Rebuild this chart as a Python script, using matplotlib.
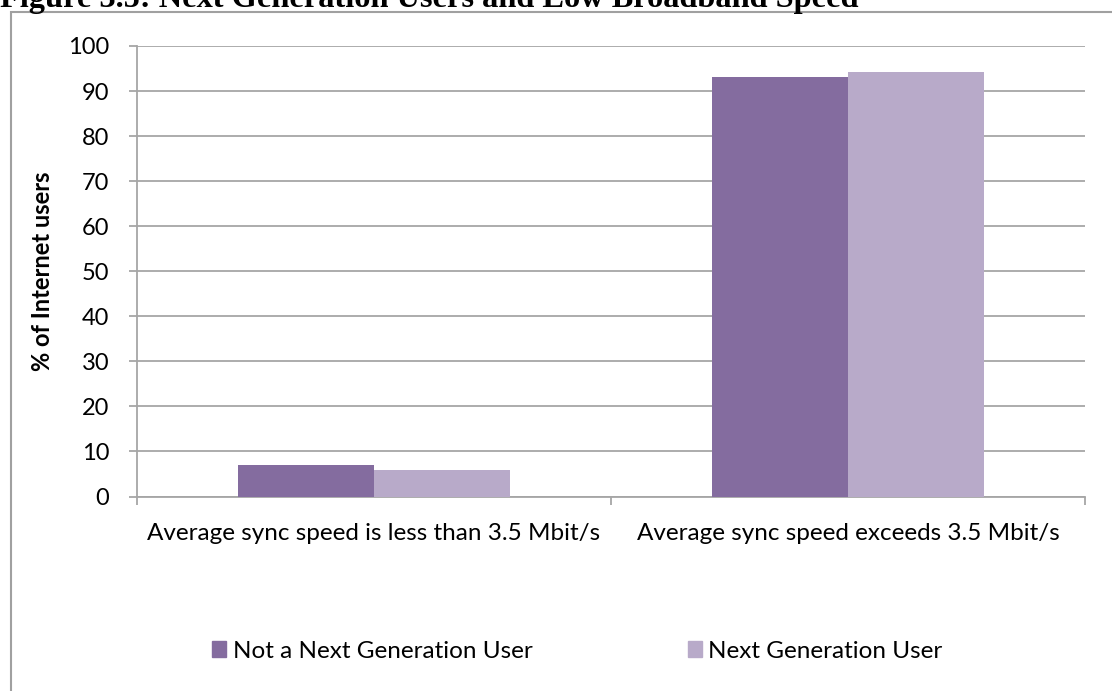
import matplotlib
matplotlib.use("Agg")
import matplotlib.pyplot as plt
from matplotlib.patches import Rectangle, Patch
import numpy as np

categories = ["Average sync speed is less than 3.5 Mbit/s",
              "Average sync speed exceeds 3.5 Mbit/s"]
not_next_gen = [6.9, 93.2]
next_gen = [5.8, 94.3]
series_names = ["Not a Next Generation User", "Next Generation User"]
yticks = [0, 10, 20, 30, 40, 50, 60, 70, 80, 90, 100]

dark = "#846c9f"
light = "#b8aac9"
grid_col = "#a6a6a6"

plt.rcParams["font.family"] = ["Lato", "DejaVu Sans"]

W, H = 1112, 691
fig = plt.figure(figsize=(W / 100, H / 100), dpi=100)

# outer chart frame (runs off the right and bottom edges)
fig.patches.append(Rectangle((11 / W, -0.2), 1.2, 1 - 12 / H + 0.2,
                             transform=fig.transFigure, fill=False,
                             edgecolor="#a0a0a0", linewidth=1.5, zorder=0))

fig.text(0, 1 - 7 / H, "Figure 3.5: Next Generation Users and Low Broadband Speed",
         family="Liberation Serif", fontweight="bold", fontsize=23.3,
         va="baseline", ha="left")

ax = fig.add_axes([137 / W, 1 - 496.5 / H, (1085 - 137) / W, (496.5 - 46) / H])

x = np.arange(len(categories))
bw = 0.287
ax.bar(x - bw / 2, not_next_gen, bw, color=dark, zorder=3)
ax.bar(x + bw / 2, next_gen, bw, color=light, zorder=3)

ax.set_xlim(-0.5, len(categories) - 0.5)
ax.set_ylim(0, 100)
ax.set_yticks(yticks)
ax.yaxis.grid(True, color=grid_col, linewidth=1.3, zorder=0)
ax.set_axisbelow(True)

ax.set_xticks(x)
ax.set_xticklabels(categories, fontsize=17.5)
ax.set_xticks(np.arange(len(categories) + 1) - 0.5, minor=True)
ax.tick_params(axis="x", which="major", length=0, pad=19)
ax.tick_params(axis="x", which="minor", length=6, width=1.3, color=grid_col)
ax.tick_params(axis="y", length=6, width=1.3, color=grid_col, pad=14, labelsize=17)

for s in ["top", "right"]:
    ax.spines[s].set_visible(False)
for s in ["left", "bottom"]:
    ax.spines[s].set_color(grid_col)
    ax.spines[s].set_linewidth(1.3)

ax.set_ylabel("% of Internet users", fontsize=17, fontweight="bold", labelpad=10)

handles = [Patch(color=dark), Patch(color=light)]
fig.legend(handles, series_names, loc="center left",
           bbox_to_anchor=(190 / W, 1 - 651 / H), ncol=2, frameon=False,
           fontsize=17.5, handlelength=0.6, handleheight=0.6,
           handletextpad=0.25, columnspacing=6.4)

fig.savefig("out.png", dpi=100)
